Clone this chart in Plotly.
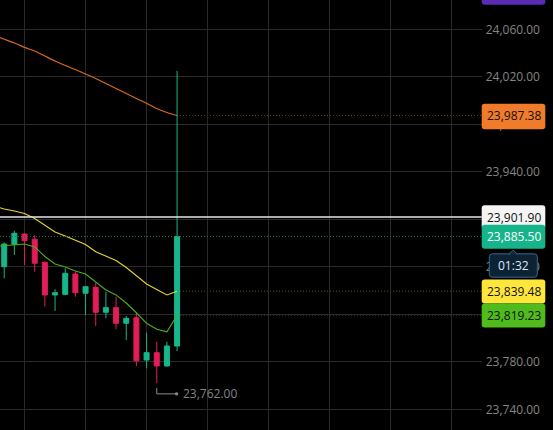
import plotly.graph_objects as go

# ---------------- data ----------------
idx = list(range(18))
opens  = [23860.1, 23878.9, 23887.6, 23883.2, 23863.8, 23836.3, 23836.8, 23853.9, 23837.7,
          23842.7, 23821.7, 23825.6, 23812.4, 23817.1, 23781.5, 23787.7, 23776.5, 23793.3]
highs  = [23880.6, 23890.4, 23888.5, 23886.8, 23864.5, 23841.1, 23858.7, 23855.9, 23843.5,
          23846.6, 23839.0, 23834.8, 23818.6, 23821.3, 23804.5, 23796.9, 23796.9, 24025.0]
lows   = [23850.3, 23869.9, 23861.5, 23855.9, 23826.4, 23822.8, 23836.0, 23834.8, 23819.4,
          23810.1, 23816.6, 23807.4, 23798.4, 23776.5, 23774.5, 23762.0, 23775.9, 23789.1]
closes = [23879.2, 23888.2, 23882.0, 23863.0, 23836.3, 23838.2, 23854.5, 23838.2, 23843.2,
          23821.7, 23825.6, 23812.4, 23816.6, 23780.9, 23787.7, 23776.5, 23793.3, 23885.5]

ma_idx = list(range(-1, 18))
ma_orange = [24054.8, 24051.6, 24048.5, 24044.8, 24041.7, 24037.5, 24033.3, 24029.5, 24026.1,
             24022.4, 24018.6, 24014.4, 24010.1, 24005.9, 24001.7, 23997.7, 23993.3, 23989.9, 23987.38]
ma_yellow = [23911.2, 23908.7, 23907.0, 23904.9, 23900.7, 23894.8, 23889.3, 23885.9, 23882.6,
             23878.8, 23872.7, 23869.1, 23865.3, 23859.4, 23852.3, 23845.5, 23840.9, 23836.3, 23839.48]
ma_green = [23877.1, 23877.9, 23878.4, 23879.2, 23876.7, 23868.7, 23862.4, 23859.8, 23856.5,
            23853.9, 23847.2, 23840.5, 23836.3, 23829.5, 23821.3, 23812.4, 23807.4, 23805.3, 23819.23]

hline_price = 23901.90
last_price = 23885.50
low_price = 23762.00
low_idx = 15
countdown = "01:32"

tick_vals = [23740, 23780, 23820, 23860, 23900, 23940, 23980, 24020, 24060]
grid_x = [2, 8, 14, 20, 26, 32, 38, 44]

label_prices = [23987.38, 23901.90, 23885.50, 23839.48, 23819.23]
label_bg = ["#f07b2b", "#f4f4f4", "#16b48a", "#ffe63b", "#4fbb1c"]
label_fg = ["#111111", "#111111", "#ffffff", "#111111", "#111111"]

# ---------------- styling ----------------
W, H = 553, 430
plot_right = 481.7
UP, DOWN = "#17b68b", "#e11d5a"
FONT = "Open Sans"
DOTS = "1px,2px"

fig = go.Figure()

fig.add_trace(go.Candlestick(
    x=idx, open=opens, high=highs, low=lows, close=closes,
    increasing=dict(line=dict(color=UP, width=1), fillcolor=UP),
    decreasing=dict(line=dict(color=DOWN, width=1), fillcolor=DOWN),
    whiskerwidth=0, hoverinfo="skip", showlegend=False))

fig.add_trace(go.Scatter(x=ma_idx, y=ma_orange, mode="lines",
                         line=dict(color="#d8691d", width=1.2, shape="spline", smoothing=0.5),
                         hoverinfo="skip", showlegend=False))
fig.add_trace(go.Scatter(x=ma_idx, y=ma_yellow, mode="lines",
                         line=dict(color="#e8d431", width=1.1),
                         hoverinfo="skip", showlegend=False))
fig.add_trace(go.Scatter(x=ma_idx, y=ma_green, mode="lines",
                         line=dict(color="#4fae1a", width=1.1),
                         hoverinfo="skip", showlegend=False))

shapes = []
shapes.append(dict(type="line", xref="paper", yref="y", x0=0, x1=plot_right / W,
                   y0=hline_price, y1=hline_price, line=dict(color="#e6e6e6", width=1.5), layer="above"))
shapes.append(dict(type="line", xref="paper", yref="y", x0=0, x1=plot_right / W,
                   y0=last_price, y1=last_price, line=dict(color="#12745a", width=1, dash=DOTS), layer="above"))
for val, col in [(ma_orange[-1], "#7a3f18"), (ma_yellow[-1], "#5c5a22"), (ma_green[-1], "#35541c")]:
    shapes.append(dict(type="line", xref="x", yref="y", x0=idx[-1], x1=60,
                       y0=val, y1=val, line=dict(color=col, width=1, dash=DOTS), layer="below"))

def rrect(w, h, r, yc=0.0, x0=0.0):
    t, b = yc + h / 2, yc - h / 2
    return (f"M {x0+r},{t} L {x0+w-r},{t} Q {x0+w},{t} {x0+w},{t-r} "
            f"L {x0+w},{b+r} Q {x0+w},{b} {x0+w-r},{b} L {x0+r},{b} Q {x0},{b} {x0},{b+r} "
            f"L {x0},{t-r} Q {x0},{t} {x0+r},{t} Z")

box_w = 63.6
annotations = []
for k, (p, bg, fg) in enumerate(zip(label_prices, label_bg, label_fg)):
    bh, byc = (25.5, -1.0) if k == 0 else (24, -0.3)
    shapes.append(dict(type="path", xref="paper", yref="y", xsizemode="pixel", ysizemode="pixel",
                       xanchor=plot_right / W, yanchor=p, path=rrect(box_w, bh, 3, yc=byc),
                       fillcolor=bg, line=dict(width=0), layer="above"))
    annotations.append(dict(xref="paper", yref="y", x=513.5 / W, y=p, text=f"{p:,.2f}",
                            showarrow=False, xanchor="center", yanchor="middle",
                            font=dict(family=FONT, size=12, color=fg)))

cx0, cw = 7.6, 48
shapes.append(dict(type="path", xref="paper", yref="y", xsizemode="pixel", ysizemode="pixel",
                   xanchor=plot_right / W, yanchor=last_price, path=rrect(cw, 23.4, 3, yc=-29.0, x0=cx0),
                   fillcolor="#0c2336", line=dict(color="#3a6688", width=1), layer="above"))
shapes.append(dict(type="path", xref="paper", yref="y", xsizemode="pixel", ysizemode="pixel",
                   xanchor=plot_right / W, yanchor=last_price,
                   path=f"M {cx0+cw/2-4},-17.6 L {cx0+cw/2},-13.5 L {cx0+cw/2+4},-17.6 Z",
                   fillcolor="#0c2336", line=dict(color="#3a6688", width=1), layer="above"))
shapes.append(dict(type="line", xref="paper", yref="y", xsizemode="pixel", ysizemode="pixel",
                   xanchor=plot_right / W, yanchor=last_price,
                   x0=cx0 + cw / 2 - 3.3, x1=cx0 + cw / 2 + 3.3, y0=-17.8, y1=-17.8,
                   line=dict(color="#0c2336", width=1.5), layer="above"))
annotations.append(dict(xref="paper", yref="y", x=(plot_right + cx0 + cw / 2) / W, y=last_price,
                        yshift=-29, text=countdown, showarrow=False, xanchor="center", yanchor="middle",
                        font=dict(family=FONT, size=12, color="#dfe8ef")))

shapes.append(dict(type="path", xref="paper", yref="paper", xsizemode="pixel", ysizemode="pixel",
                   xanchor=plot_right / W, yanchor=1.0,
                   path=rrect(box_w, 24, 3, yc=7.3), fillcolor="#5a2bb5", line=dict(width=0), layer="above"))

shapes.append(dict(type="path", xref="x", yref="y", ysizemode="pixel", yanchor=low_price,
                   path=f"M {low_idx},-4.7 L {low_idx},-10.7 L {low_idx + 1.95},-10.7",
                   line=dict(color="#8a8a8a", width=1), layer="above"))
shapes.append(dict(type="circle", xref="x", yref="y", xsizemode="pixel", ysizemode="pixel",
                   xanchor=low_idx + 1.95, yanchor=low_price, x0=-1.7, x1=1.7, y0=-12.4, y1=-9.0,
                   fillcolor="#8a8a8a", line=dict(width=0), layer="above"))
annotations.append(dict(xref="x", yref="y", x=low_idx + 1.95, y=low_price, xshift=4, yshift=-10.7,
                        text=f"{low_price:,.2f}", showarrow=False, xanchor="left", yanchor="middle",
                        font=dict(family=FONT, size=12, color="#858585")))

y_top = 24060 + 29.3 / 1.1875
y_bot = 24060 - (H - 29.3) / 1.1875
x_left = -4.2 / 10.17
x_right = (plot_right - 4.2) / 10.17

fig.update_layout(
    width=W, height=H, margin=dict(l=0, r=0, t=0, b=0),
    paper_bgcolor="#000000", plot_bgcolor="#000000",
    showlegend=False, hovermode=False,
    shapes=shapes, annotations=annotations,
    xaxis=dict(domain=[0, plot_right / W], range=[x_left, x_right], rangeslider=dict(visible=False),
               tickmode="array", tickvals=grid_x, showticklabels=False, showgrid=True,
               gridcolor="#2a2a2a", gridwidth=1, zeroline=False, showline=False, fixedrange=True),
    yaxis=dict(side="right", anchor="x", range=[y_bot, y_top], tickmode="array", tickvals=tick_vals,
               ticktext=[f"{v:,.2f}" for v in tick_vals], showgrid=True, gridcolor="#2a2a2a",
               gridwidth=1, zeroline=False, showline=False, ticks="", ticklabelstandoff=3,
               tickfont=dict(family=FONT, size=12, color="#858585"), fixedrange=True),
    font=dict(family=FONT),
)

fig.write_html("out.html", config={"displayModeBar": False},
               post_script="document.body.style.margin='0';document.body.style.padding='0';"
                           "document.body.style.overflow='hidden';document.body.style.background='#000';")
